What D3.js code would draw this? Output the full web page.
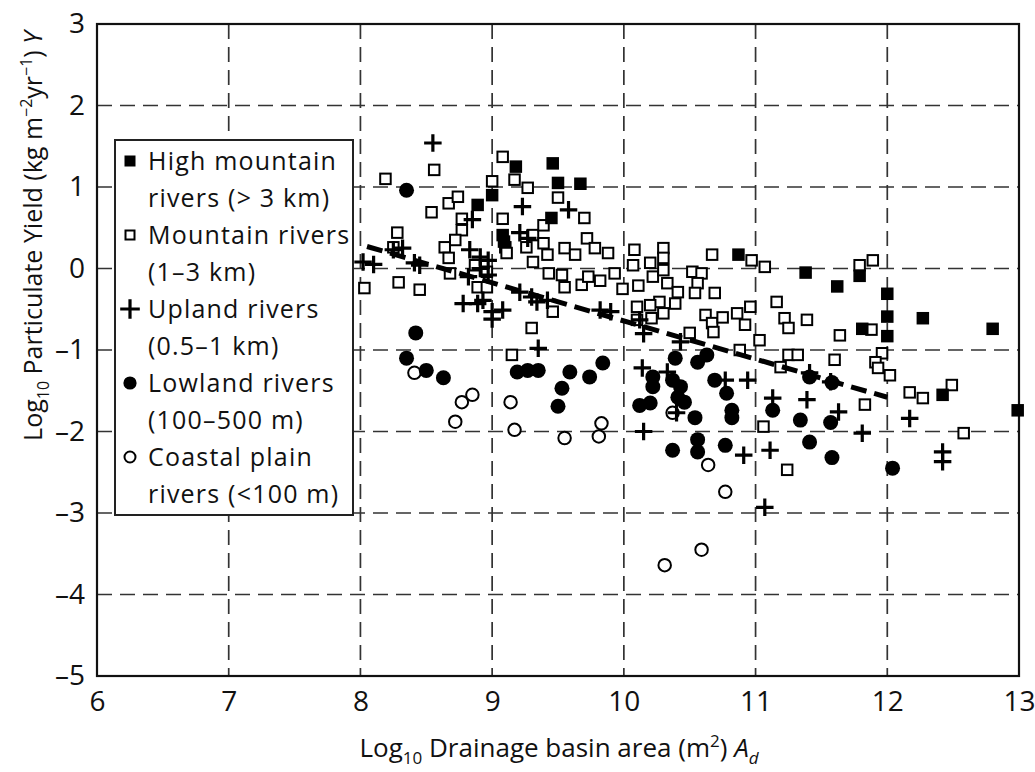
<!DOCTYPE html>
<html>
<head>
<meta charset="utf-8">
<script src="https://cdn.jsdelivr.net/npm/d3@7"></script>
<style>
  body { margin: 0; background: #fff; }
  svg { display: block; font-family: "Open Sans", "Noto Sans", sans-serif; }
</style>
</head>
<body>
<div id="chart"></div>
<script>
// Axis ticks
const xTicks = [6, 7, 8, 9, 10, 11, 12, 13];
const yTicks = [3, 2, 1, 0, -1, -2, -3, -4, -5];

// High mountain rivers (> 3 km) - filled squares
const highX = [9.46, 9.50, 9.67, 8.89, 9.00, 9.45, 9.08, 9.09, 9.18, 10.87, 11.38, 11.62, 11.79, 12.00, 12.00, 12.00, 12.27, 12.80, 11.81, 12.42, 12.99];
const highY = [1.29, 1.05, 1.04, 0.78, 0.90, 0.62, 0.41, 0.33, 1.25, 0.17, -0.05, -0.22, -0.09, -0.31, -0.59, -0.83, -0.61, -0.74, -0.74, -1.55, -1.74];

// Mountain rivers (1-3 km) - open squares
const mountX = [8.19, 8.56, 8.54, 8.67, 8.74, 8.77, 8.77, 8.72, 8.64, 8.67, 8.68, 8.28, 8.25, 8.03, 8.29, 8.45,
  9.08, 9.17, 9.27, 9.00, 9.08, 9.10, 9.11, 9.31, 9.26, 9.31, 8.87, 8.96, 8.89, 8.96, 9.30,
  9.50, 9.70, 9.39, 9.39, 9.72, 9.78, 9.88, 9.55, 9.63, 9.42, 9.43, 9.53, 9.55, 9.68, 9.73, 9.82, 9.93, 9.99,
  10.08, 10.07, 10.11, 10.20, 10.22, 10.30, 10.30, 10.30, 10.33, 10.41, 10.27, 10.20, 10.10, 10.30, 10.39, 10.21, 10.50,
  10.52, 10.59, 10.56, 10.54, 10.69, 10.67, 10.62, 10.67, 9.46,
  10.97, 11.07, 11.16, 10.96, 10.75, 10.86, 10.92, 10.68, 11.22, 11.25, 11.39, 11.03, 10.88, 11.25, 11.32, 11.19,
  11.60, 11.64, 11.79, 11.89, 11.88, 11.96, 11.91, 11.93, 12.02, 11.83, 12.17, 12.27, 12.49, 12.58, 10.10, 11.06, 11.24, 9.15];
const mountY = [1.10, 1.21, 0.69, 0.80, 0.88, 0.61, 0.47, 0.35, 0.26, 0.13, -0.06, 0.44, 0.26, -0.24, -0.17, -0.26,
  1.37, 1.09, 0.99, 1.07, 0.61, 0.26, 0.19, 0.41, 0.26, 0.08, 0.04, -0.04, -0.23, -0.23, -0.73,
  0.87, 0.62, 0.53, 0.31, 0.37, 0.25, 0.19, 0.25, 0.17, 0.17, -0.06, -0.08, -0.23, -0.20, -0.10, -0.15, -0.06, -0.25,
  0.23, 0.04, -0.21, 0.07, -0.10, 0.25, 0.13, -0.02, -0.18, -0.29, -0.41, -0.45, -0.47, -0.55, -0.43, -0.61, -0.79,
  -0.04, -0.06, -0.18, -0.30, -0.30, 0.17, -0.57, -0.67, -0.53,
  0.10, 0.02, -0.41, -0.47, -0.60, -0.55, -0.69, -0.78, -0.61, -0.73, -0.63, -0.88, -1.00, -1.06, -1.06, -1.21,
  -1.12, -0.82, 0.04, 0.10, -0.75, -1.04, -1.15, -1.22, -1.31, -1.67, -1.52, -1.59, -1.43, -2.02, -0.63, -1.94, -2.47, -1.06];

// Upland rivers (0.5-1 km) - plus signs
const uplandX = [8.55, 9.23, 8.85, 8.83, 9.21, 8.02, 8.10, 8.25, 8.32, 8.41, 8.45, 8.91, 8.97, 8.91, 8.97, 8.78, 8.89, 8.93,
  9.00, 9.00, 9.08, 9.30, 9.21, 8.82, 9.58, 9.27, 9.42, 9.34, 9.82, 9.90, 10.12, 10.15, 10.43, 10.14, 10.33, 10.77,
  10.94, 11.13, 11.39, 10.40, 10.15, 10.91, 11.11, 11.63, 11.81, 11.07, 12.17, 12.42, 12.42, 11.57, 11.41, 9.35];
const uplandY = [1.54, 0.76, 0.60, 0.23, 0.44, 0.08, 0.05, 0.23, 0.25, 0.07, 0.04, 0.14, 0.10, 0.00, -0.08, -0.43, -0.43, -0.39,
  -0.53, -0.62, -0.51, -0.35, -0.29, -0.10, 0.72, 0.37, -0.39, -0.41, -0.51, -0.53, -0.63, -0.80, -0.90, -1.22, -1.27, -1.37,
  -1.37, -1.59, -1.61, -1.77, -2.00, -2.29, -2.23, -1.76, -2.02, -2.93, -1.84, -2.25, -2.37, -1.39, -1.28, -0.98];

// Lowland rivers (100-500 m) - filled circles
const lowX = [8.35, 8.42, 8.35, 8.50, 8.63, 9.19, 9.27, 9.35, 9.59, 9.53, 9.50, 9.74, 9.84, 10.12, 10.20, 10.37,
  10.39, 10.56, 10.63, 10.22, 10.22, 10.37, 10.43, 10.41, 10.46, 10.54, 10.69, 10.78, 10.82, 10.82, 10.56, 10.56,
  10.77, 11.13, 11.34, 11.41, 11.41, 11.57, 11.58, 12.04, 11.58];
const lowY = [0.96, -0.79, -1.10, -1.25, -1.34, -1.27, -1.25, -1.25, -1.27, -1.47, -1.69, -1.33, -1.16, -1.68, -1.65, -2.23,
  -1.10, -1.15, -1.06, -1.33, -1.45, -1.37, -1.45, -1.58, -1.64, -1.83, -1.37, -1.53, -1.74, -1.83, -2.10, -2.25,
  -2.17, -1.74, -1.86, -2.13, -1.33, -1.89, -2.32, -2.45, -1.40];

// Coastal plain rivers (< 100 m) - open circles
const coastX = [8.41, 8.77, 8.85, 8.72, 9.14, 9.17, 9.55, 9.83, 9.81, 10.31, 10.37, 10.64, 10.77, 10.59];
const coastY = [-1.28, -1.64, -1.55, -1.88, -1.64, -1.98, -2.08, -1.90, -2.06, -3.64, -1.77, -2.41, -2.74, -3.45];

// Regression line end points
const fitX = [8.05, 12.0];
const fitY = [0.27, -1.58];

const legendLines = [
  ["High mountain", "rivers (> 3 km)"],
  ["Mountain rivers", "(1–3 km)"],
  ["Upland rivers", "(0.5–1 km)"],
  ["Lowland rivers", "(100–500 m)"],
  ["Coastal plain", "rivers (<100 m)"]
];
const legendTypes = ["fsq", "osq", "plus", "fcirc", "ocirc"];

const width = 1035, height = 772;
const margin = {left: 97, right: 16, top: 24, bottom: 96};
const plotW = width - margin.left - margin.right,
      plotH = height - margin.top - margin.bottom;

const narrow = "'Liberation Sans Narrow', 'Open Sans', sans-serif";

const svg = d3.select("#chart").append("svg")
  .attr("width", width)
  .attr("height", height);

const g = svg.append("g").attr("transform", `translate(${margin.left},${margin.top})`);

const x = d3.scaleLinear().domain([6, 13]).range([0, plotW]);
const y = d3.scaleLinear().domain([-5, 3]).range([plotH, 0]);

// Dashed grid
g.append("g").selectAll("line")
  .data(xTicks.slice(1, -1))
  .join("line")
  .attr("x1", d => x(d)).attr("x2", d => x(d))
  .attr("y1", 0).attr("y2", plotH)
  .attr("stroke", "#333").attr("stroke-width", 1.7)
  .attr("stroke-dasharray", "15,8");

g.append("g").selectAll("line")
  .data(yTicks.slice(1, -1))
  .join("line")
  .attr("x1", 0).attr("x2", plotW)
  .attr("y1", d => y(d)).attr("y2", d => y(d))
  .attr("stroke", "#333").attr("stroke-width", 1.7)
  .attr("stroke-dasharray", "15,8");

// Frame
g.append("rect")
  .attr("width", plotW).attr("height", plotH)
  .attr("fill", "none").attr("stroke", "#111").attr("stroke-width", 2.2);

// Tick labels through d3 axes
const fmt = d => d < 0 ? "–" + Math.abs(d) : String(d);

const xAxis = g.append("g")
  .attr("transform", `translate(0,${plotH})`)
  .call(d3.axisBottom(x).tickValues(xTicks).tickSize(0).tickPadding(15).tickFormat(fmt));
xAxis.select(".domain").remove();
xAxis.selectAll("text").attr("font-size", 28).attr("fill", "#111")
  .attr("font-family", narrow);

const yAxis = g.append("g")
  .call(d3.axisLeft(y).tickValues(yTicks).tickSize(0).tickPadding(12).tickFormat(fmt));
yAxis.select(".domain").remove();
yAxis.selectAll("text").attr("font-size", 28).attr("fill", "#111")
  .attr("font-family", narrow);

// Symbols
function drawSymbol(sel, type, size) {
  const s = size;
  if (type === "fsq") {
    sel.append("rect").attr("x", -s / 2).attr("y", -s / 2).attr("width", s).attr("height", s)
      .attr("fill", "#000");
  } else if (type === "osq") {
    sel.append("rect").attr("x", -s / 2 + 1).attr("y", -s / 2 + 1).attr("width", s - 2).attr("height", s - 2)
      .attr("fill", "#fff").attr("stroke", "#000").attr("stroke-width", 2);
  } else if (type === "plus") {
    sel.append("path").attr("d", `M${-s * 0.7},0H${s * 0.7}M0,${-s * 0.7}V${s * 0.7}`)
      .attr("stroke", "#000").attr("stroke-width", 3.2);
  } else if (type === "fcirc") {
    sel.append("circle").attr("r", s * 0.6).attr("fill", "#000");
  } else if (type === "ocirc") {
    sel.append("circle").attr("r", s * 0.5).attr("fill", "#fff").attr("stroke", "#000").attr("stroke-width", 2);
  }
}

function plotSeries(xs, ys, type) {
  const pts = xs.map((v, i) => [v, ys[i]]);
  g.append("g").selectAll("g")
    .data(pts)
    .join("g")
    .attr("transform", d => `translate(${x(d[0])},${y(d[1])})`)
    .each(function () { drawSymbol(d3.select(this), type, 12.5); });
}

plotSeries(mountX, mountY, "osq");
plotSeries(coastX, coastY, "ocirc");
plotSeries(lowX, lowY, "fcirc");
plotSeries(highX, highY, "fsq");
plotSeries(uplandX, uplandY, "plus");

// Regression line
g.append("path")
  .datum(fitX.map((v, i) => [v, fitY[i]]))
  .attr("d", d3.line().x(d => x(d[0])).y(d => y(d[1])))
  .attr("stroke", "#000").attr("stroke-width", 5)
  .attr("stroke-dasharray", "16,8").attr("fill", "none");

// Legend
const legend = svg.append("g").attr("transform", "translate(115,140)");
legend.append("rect")
  .attr("width", 238).attr("height", 375)
  .attr("fill", "#fff").attr("stroke", "#222").attr("stroke-width", 2);

legendLines.forEach((lines, i) => {
  const top = 21 + i * 74;
  const mk = legend.append("g").attr("transform", `translate(15,${top})`);
  drawSymbol(mk, legendTypes[i], legendTypes[i] === "plus" ? 14 : 11);
  lines.forEach((t, j) => {
    legend.append("text")
      .attr("x", 33).attr("y", top + 9 + j * 37)
      .attr("font-size", 25).attr("letter-spacing", 1.2).attr("fill", "#111")
      .text(t);
  });
});

// Axis titles
const xt = svg.append("text")
  .attr("x", 559).attr("y", 757)
  .attr("text-anchor", "middle")
  .attr("font-size", 26).attr("fill", "#111");
xt.append("tspan").text("Log");
xt.append("tspan").attr("font-size", 17).attr("dy", 7).text("10");
xt.append("tspan").attr("dy", -7).text(" Drainage basin area (m");
xt.append("tspan").attr("font-size", 17).attr("dy", -10).text("2");
xt.append("tspan").attr("dy", 10).text(") ");
xt.append("tspan").attr("font-style", "italic").text("A");
xt.append("tspan").attr("font-size", 17).attr("font-style", "italic").attr("dy", 7).text("d");

const yt = svg.append("text")
  .attr("transform", "translate(42,236) rotate(-90)")
  .attr("text-anchor", "middle")
  .attr("font-size", 25).attr("fill", "#111");
yt.append("tspan").text("Log");
yt.append("tspan").attr("font-size", 16).attr("dy", 7).text("10");
yt.append("tspan").attr("dy", -7).text(" Particulate Yield (kg m");
yt.append("tspan").attr("font-size", 16).attr("dy", -10).text("−2");
yt.append("tspan").attr("dy", 10).text("yr");
yt.append("tspan").attr("font-size", 16).attr("dy", -10).text("−1");
yt.append("tspan").attr("dy", 10).text(") ");
yt.append("tspan").attr("font-style", "italic").text("Y");
</script>
</body>
</html>
